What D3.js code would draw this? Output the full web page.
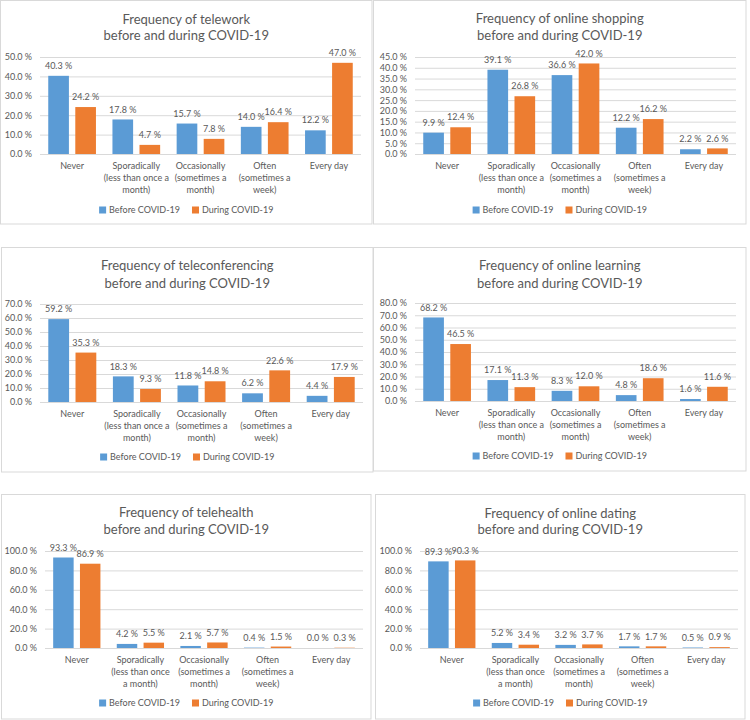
<!DOCTYPE html>
<html>
<head>
<meta charset="utf-8">
<script src="https://cdn.jsdelivr.net/npm/d3@7"></script>
<style>
  body { margin: 0; background: #fff; }
  text { font-family: Lato, "Open Sans", sans-serif; fill: #595959; }
</style>
</head>
<body>
<svg id="chart" width="750" height="720"></svg>
<script>
// Categories, shared by all panels
const categories = ['Never', 'Sporadically', 'Occasionally', 'Often', 'Every day'];
const catLabels = [
  ['Never'],
  ['Sporadically', '(less than once a', 'month)'],
  ['Occasionally', '(sometimes a', 'month)'],
  ['Often', '(sometimes a', 'week)'],
  ['Every day']
];
const catLabelsAlt = [
  ['Never'],
  ['Sporadically', '(less than once', 'a month)'],
  ['Occasionally', '(sometimes a', 'month)'],
  ['Often', '(sometimes a', 'week)'],
  ['Every day']
];
const seriesNames = ['Before COVID-19', 'During COVID-19'];

// Values (%) per panel
const teleworkBefore = [40.3, 17.8, 15.7, 14.0, 12.2];
const teleworkDuring = [24.2, 4.7, 7.8, 16.4, 47.0];
const shoppingBefore = [9.9, 39.1, 36.6, 12.2, 2.2];
const shoppingDuring = [12.4, 26.8, 42.0, 16.2, 2.6];
const teleconfBefore = [59.2, 18.3, 11.8, 6.2, 4.4];
const teleconfDuring = [35.3, 9.3, 14.8, 22.6, 17.9];
const learningBefore = [68.2, 17.1, 8.3, 4.8, 1.6];
const learningDuring = [46.5, 11.3, 12.0, 18.6, 11.6];
const telehealthBefore = [93.3, 4.2, 2.1, 0.4, 0.0];
const telehealthDuring = [86.9, 5.5, 5.7, 1.5, 0.3];
const datingBefore = [89.3, 5.2, 3.2, 1.7, 0.5];
const datingDuring = [90.3, 3.4, 3.7, 1.7, 0.9];

// Titles and axis ticks
const titles = [
  ['Frequency of telework', 'before and during COVID-19'],
  ['Frequency of online shopping', 'before and during COVID-19'],
  ['Frequency of teleconferencing', 'before and during COVID-19'],
  ['Frequency of online learning', 'before and during COVID-19'],
  ['Frequency of telehealth', 'before and during COVID-19'],
  ['Frequency of online dating', 'before and during COVID-19']
];
const yTicks = [
  [0, 10, 20, 30, 40, 50],
  [0, 5, 10, 15, 20, 25, 30, 35, 40, 45],
  [0, 10, 20, 30, 40, 50, 60, 70],
  [0, 10, 20, 30, 40, 50, 60, 70, 80],
  [0, 20, 40, 60, 80, 100],
  [0, 20, 40, 60, 80, 100]
];

const colors = ['#5B9BD5', '#ED7D31'];

const panels = [
  { before: teleworkBefore, during: teleworkDuring, labels: catLabels,
    box: [0.5, 0.5, 372, 224], titleY: [19, 35], plot: [40, 361, 57, 154], legendY: 210 },
  { before: shoppingBefore, during: shoppingDuring, labels: catLabels,
    box: [373.5, 0.5, 746, 224], titleY: [18, 35], plot: [415, 736, 57, 154], legendY: 210 },
  { before: teleconfBefore, during: teleconfDuring, labels: catLabels,
    box: [1.5, 247.5, 373, 472], titleY: [265, 283], plot: [40, 363, 304, 402], legendY: 457 },
  { before: learningBefore, during: learningDuring, labels: catLabels,
    box: [373.5, 247.5, 746, 471], titleY: [265, 283], plot: [415, 736, 303, 401], legendY: 456 },
  { before: telehealthBefore, during: telehealthDuring, labels: catLabelsAlt,
    box: [1.5, 494.5, 371, 719], titleY: [512, 529], plot: [45, 363, 551, 648], legendY: 703 },
  { before: datingBefore, during: datingDuring, labels: catLabelsAlt,
    box: [375.5, 494.5, 745, 719], titleY: [513, 529], plot: [420, 738, 551, 648], legendY: 703 }
];

const svg = d3.select('#chart');
const fmt = d => d3.format('.1f')(d) + ' %';

panels.forEach((p, i) => {
  const g = svg.append('g');
  const [bx0, by0, bx1, by1] = p.box;
  const [left, right, top, bottom] = p.plot;
  const cx = (bx0 + bx1) / 2;
  const ticks = yTicks[i];

  // Panel frame
  g.append('rect')
    .attr('x', bx0).attr('y', by0)
    .attr('width', bx1 - bx0).attr('height', by1 - by0)
    .attr('fill', '#fff').attr('stroke', '#d9d9d9');

  // Title
  g.append('text')
    .attr('text-anchor', 'middle')
    .style('font-size', '13px')
    .selectAll('tspan')
    .data(titles[i])
    .join('tspan')
    .attr('x', cx)
    .attr('y', (d, k) => p.titleY[k])
    .attr('dy', '0.35em')
    .text(d => d);

  const x0 = d3.scaleBand()
    .domain(categories)
    .range([left, right])
    .paddingInner(0.257)
    .paddingOuter(0.1285);

  const x1 = d3.scaleBand()
    .domain([0, 1])
    .range([0, x0.bandwidth()])
    .paddingInner(0.236);

  const y = d3.scaleLinear()
    .domain([0, d3.max(ticks)])
    .range([bottom, top]);

  // Gridlines and y axis labels
  g.append('g')
    .attr('transform', `translate(${left},0)`)
    .call(d3.axisLeft(y).tickValues(ticks).tickFormat(fmt).tickSize(-(right - left)).tickPadding(8))
    .call(a => a.select('.domain').remove())
    .call(a => a.selectAll('line').attr('stroke', '#d9d9d9'))
    .call(a => a.selectAll('text').attr('fill', '#595959').style('font-size', '9px').style('font-family', null));

  const series = [p.before, p.during];

  series.forEach((vals, s) => {
    g.append('g')
      .attr('fill', colors[s])
      .selectAll('rect')
      .data(vals)
      .join('rect')
      .attr('x', (d, k) => x0(categories[k]) + x1(s))
      .attr('y', d => y(d))
      .attr('width', x1.bandwidth())
      .attr('height', d => y(0) - y(d));

    g.append('g')
      .attr('text-anchor', 'middle')
      .style('font-size', '9px')
      .selectAll('text')
      .data(vals)
      .join('text')
      .attr('x', (d, k) => x0(categories[k]) + x1(s) + x1.bandwidth() / 2)
      .attr('y', d => y(d) - 10)
      .attr('dy', '0.35em')
      .text(fmt);
  });

  // Category labels
  g.append('g')
    .attr('text-anchor', 'middle')
    .style('font-size', '9px')
    .selectAll('text')
    .data(p.labels)
    .join('text')
    .attr('transform', (d, k) => `translate(${x0(categories[k]) + x0.bandwidth() / 2},${bottom + 12})`)
    .selectAll('tspan')
    .data(d => d)
    .join('tspan')
    .attr('x', 0)
    .attr('y', (d, k) => k * 12)
    .attr('dy', '0.35em')
    .text(d => d);

  // Legend, centred on the panel
  const legend = g.append('g').style('font-size', '9px');
  let lx = 0;
  seriesNames.forEach((name, s) => {
    legend.append('rect')
      .attr('x', lx).attr('y', p.legendY - 3.5)
      .attr('width', 7).attr('height', 7)
      .attr('fill', colors[s]);
    const t = legend.append('text')
      .attr('x', lx + 10).attr('y', p.legendY)
      .attr('dy', '0.35em')
      .text(name);
    lx += 10 + t.node().getComputedTextLength() + 12;
  });
  legend.attr('transform', `translate(${cx - (lx - 12) / 2},0)`);
});
</script>
</body>
</html>
